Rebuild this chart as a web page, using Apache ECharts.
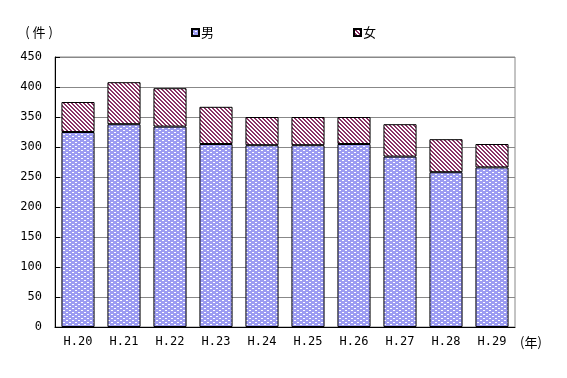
<!DOCTYPE html>
<html><head><meta charset="utf-8">
<script src="https://cdn.jsdelivr.net/npm/echarts@6/dist/echarts.min.js"></script>
<style>html,body{margin:0;padding:0;background:#fff}#c{width:567px;height:378px}</style>
</head><body><div id="c"></div>
<script>
const categories = ['H.20','H.21','H.22','H.23','H.24','H.25','H.26','H.27','H.28','H.29'];
const male   = [325, 338, 334, 305, 303, 303, 305, 284, 258, 266];
const female = [ 50,  70,  64,  62,  47,  47,  45,  54,  55,  39];
const seriesNames = ['男', '女'];
const yTicks = [0, 50, 100, 150, 200, 250, 300, 350, 400, 450];

function makePattern(kind) {
  const c = document.createElement('canvas');
  if (kind === 'male') {
    c.width = 6; c.height = 4;
    const g = c.getContext('2d');
    g.fillStyle = '#9c9cf2'; g.fillRect(0, 0, 6, 4);
    g.fillStyle = '#ffffff';
    g.fillRect(0, 0, 2, 1);
    g.fillRect(3, 2, 2, 1);
  } else {
    c.width = 4; c.height = 4;
    const g = c.getContext('2d');
    g.fillStyle = '#ffffff'; g.fillRect(0, 0, 4, 4);
    g.fillStyle = '#8a3366';
    for (let y = 0; y < 4; y++) {
      for (let x = 0; x < 4; x++) {
        const d = ((x - y) % 4 + 4) % 4;
        if (d === 0 || d === 1) g.fillRect(x, y, 1, 1);
      }
    }
  }
  return { image: c, repeat: 'repeat' };
}

const chart = echarts.init(document.getElementById('c'), null, { renderer: 'canvas' });
const font = '"DejaVu Sans Mono", monospace';
chart.setOption({
  animation: false,
  legend: {
    left: 186, top: 21,
    itemWidth: 7, itemHeight: 7, itemGap: 139,
    icon: 'rect',
    textStyle: { fontFamily: '"Noto Sans CJK JP"', fontSize: 13, color: '#000', padding: [0,0,0,-3] },
    data: seriesNames
  },
  grid: { left: 55, right: 52, top: 57, bottom: 51, show: true, borderColor: '#888', borderWidth: 1 },
  xAxis: {
    type: 'category', data: categories,
    axisLine: { lineStyle: { color: '#000', width: 1 } },
    axisTick: { inside: true, length: 5, lineStyle: { color: '#000' } },
    axisLabel: { color: '#000', fontFamily: font, fontSize: 12, margin: 9 },
    name: '(年)', nameLocation: 'end', nameGap: 5,
    nameTextStyle: { fontFamily: '"Noto Sans CJK JP"', fontSize: 13, color: '#000', verticalAlign: 'top', padding: [9,0,0,0] }
  },
  yAxis: {
    type: 'value', min: yTicks[0], max: yTicks[yTicks.length - 1], interval: 50,
    axisLine: { show: true, lineStyle: { color: '#000', width: 1 } },
    axisTick: { show: true, inside: true, length: 5, lineStyle: { color: '#000' } },
    splitLine: { lineStyle: { color: '#888', width: 1 } },
    axisLabel: { color: '#000', fontFamily: font, fontSize: 12, margin: 13 },
    name: '( 件 )', nameLocation: 'end', nameGap: 18,
    nameTextStyle: { fontFamily: '"Noto Sans CJK JP"', fontSize: 13, color: '#000', align: 'center', padding: [0, 32, 0, 0] }
  },
  series: [
    { name: seriesNames[0], type: 'bar', stack: 'a', data: male, barCategoryGap: '28%',
      itemStyle: { color: makePattern('male'), borderColor: '#000', borderWidth: 1 } },
    { name: seriesNames[1], type: 'bar', stack: 'a', data: female, barCategoryGap: '28%',
      itemStyle: { color: makePattern('female'), borderColor: '#000', borderWidth: 1 } }
  ]
});
</script></body></html>
